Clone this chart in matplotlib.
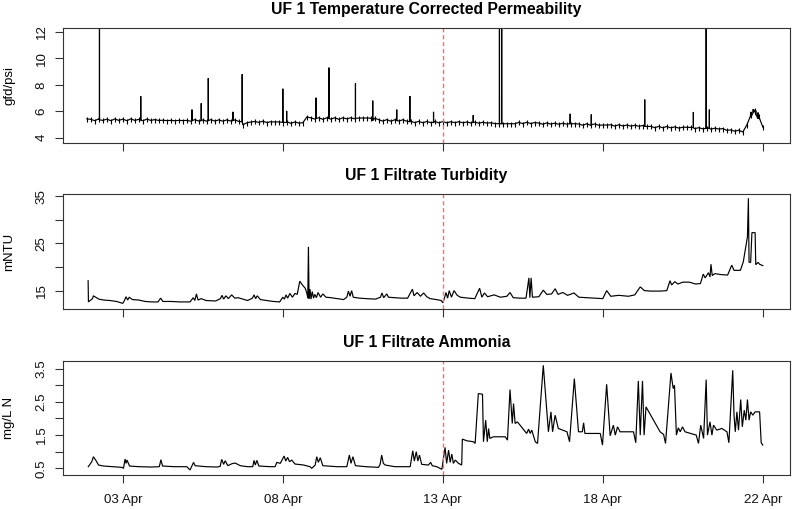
import numpy as np
import pandas as pd
import matplotlib
matplotlib.use("Agg")
import matplotlib.pyplot as plt

plt.rcParams['font.family'] = ['Liberation Sans', 'DejaVu Sans']

T0 = '2023-04-03'          # day 0 of the "day" lists below

# ---------------- Panel 1: temperature corrected permeability ----------------
perm_start = '2023-04-01 21:00'   # baseline readings every 3 h
perm_base = [
    5.42,
    5.38, 5.28, 5.42, 5.30, 5.40, 5.28, 5.41, 5.30,   # 02 Apr
    5.40, 5.28, 5.42, 5.30, 5.38, 5.27, 5.40, 5.30,   # 03 Apr
    5.36, 5.30, 5.31, 5.29, 5.30, 5.28, 5.30, 5.29,   # 04 Apr
    5.30, 5.24, 5.36, 5.25, 5.34, 5.24, 5.36, 5.25,   # 05 Apr
    5.34, 5.24, 5.34, 5.25, 5.34, 5.22, 4.97, 5.12,   # 06 Apr
    5.18, 5.22, 5.15, 5.24, 5.14, 5.20, 5.18, 5.19,   # 07 Apr
    5.13, 5.20, 5.08, 5.18, 5.10, 5.12, 5.56, 5.50,   # 08 Apr
    5.40, 5.50, 5.38, 5.50, 5.40, 5.50, 5.38, 5.50,   # 09 Apr
    5.42, 5.50, 5.42, 5.48, 5.48, 5.48, 5.47, 5.47,   # 10 Apr
    5.35, 5.25, 5.36, 5.24, 5.35, 5.25, 5.35, 5.24,   # 11 Apr
    5.24, 5.13, 5.23, 5.12, 5.22, 5.13, 5.22, 5.12,   # 12 Apr
    5.21, 5.12, 5.20, 5.13, 5.20, 5.12, 5.18, 5.11,   # 13 Apr
    5.17, 5.09, 5.16, 5.10, 5.12, 5.06, 5.05, 5.05,   # 14 Apr
    5.05, 5.05, 5.05, 5.15, 5.06, 5.16, 5.06, 5.14,   # 15 Apr
    5.10, 5.01, 5.11, 5.02, 5.09, 5.01, 5.08, 5.02,   # 16 Apr
    5.05, 5.05, 5.03, 4.93, 5.05, 4.92, 5.03, 4.93,   # 17 Apr
    4.95, 4.95, 4.97, 4.87, 4.97, 4.88, 4.95, 4.87,   # 18 Apr
    4.93, 4.86, 4.91, 4.84, 4.85, 4.75, 4.85, 4.74,   # 19 Apr
    4.84, 4.74, 4.81, 4.72, 4.78, 4.78, 4.77, 4.68,   # 20 Apr
    4.75, 4.66, 4.73, 4.64, 4.71, 4.65, 4.68, 4.55,   # 21 Apr
    4.58, 4.48, 4.56, 4.42, 4.95, 5.70, 6.10, 5.60,   # 22 Apr
    4.80,
]
perm_spike_day = [-0.73, 0.56, 2.16, 2.45, 2.67, 3.44, 3.73, 5.00, 5.12, 6.04,
                  6.44, 7.27, 7.81, 8.56, 8.97, 9.71, 10.95, 11.77, 11.84, 13.98,
                  14.64, 16.31, 17.83, 18.23, 18.33, 19.63, 19.70, 19.78, 19.85]
perm_spike_peak = [14.0, 7.13, 6.12, 6.60, 8.50, 5.95, 8.80, 7.70, 6.02, 7.02,
                   9.30, 8.10, 6.80, 6.12, 7.15, 5.95, 5.70, 14.0, 14.0, 5.80,
                   5.75, 6.88, 5.94, 14.0, 6.12, 5.95, 6.15, 6.05, 5.90]
perm_spike_base = [5.35, 5.33, 5.28, 5.28, 5.28, 5.28, 5.20, 5.15, 5.15, 5.45,
                   5.45, 5.45, 5.30, 5.30, 5.20, 5.15, 5.15, 5.05, 5.05, 5.05,
                   4.98, 4.85, 4.75, 4.70, 4.70, 5.55, 5.90, 5.75, 5.45]

# ---------------- Panel 2: filtrate turbidity ----------------
turb_day = [-1.085, -1.075, -0.95, -0.92, -0.85, -0.75, -0.6, -0.4, -0.2, 0.0,
            0.05, 0.1, 0.15, 0.2, 0.3, 0.5, 0.7, 0.9, 1.1, 1.18,
            1.25, 1.5, 1.8, 2.1, 2.2, 2.25, 2.3, 2.35, 2.45, 2.6,
            2.9, 3.05, 3.1, 3.15, 3.22, 3.3, 3.4, 3.5, 3.6, 3.75,
            3.9, 4.05, 4.1, 4.15, 4.2, 4.3, 4.5, 4.7, 4.9, 5.0,
            5.05, 5.1, 5.15, 5.22, 5.3, 5.38, 5.45, 5.53, 5.6, 5.7,
            5.75, 5.78, 5.8, 5.82, 5.85, 5.88, 5.92, 5.96, 6.0, 6.05,
            6.1, 6.18, 6.25, 6.35, 6.5, 6.7, 6.9, 7.0, 7.05, 7.1,
            7.15, 7.2, 7.4, 7.6, 7.9, 8.05, 8.1, 8.15, 8.25, 8.3,
            8.5, 8.7, 8.9, 9.05, 9.1, 9.2, 9.3, 9.4, 9.5, 9.6,
            9.8, 9.95, 10.0, 10.05, 10.1, 10.15, 10.2, 10.27, 10.35, 10.45,
            10.55, 10.8, 11.0, 11.15, 11.22, 11.3, 11.4, 11.6, 11.8, 12.0,
            12.1, 12.2, 12.4, 12.6, 12.69, 12.72, 12.76, 12.8, 13.0, 13.14,
            13.25, 13.4, 13.51, 13.6, 13.75, 13.9, 14.1, 14.25, 14.5, 14.8,
            15.0, 15.12, 15.25, 15.5, 15.8, 16.0, 16.17, 16.3, 16.5, 16.8,
            17.0, 17.1, 17.15, 17.25, 17.35, 17.5, 17.7, 17.9, 18.05, 18.14,
            18.2, 18.3, 18.35, 18.38, 18.42, 18.5, 18.7, 18.9, 19.03, 19.1,
            19.3, 19.39, 19.52, 19.55, 19.57, 19.62, 19.66, 19.76, 19.78, 19.85,
            19.9, 20.0]
turb_val = [17.1, 12.6, 13.3, 13.9, 13.6, 13.2, 13.0, 12.9, 12.7, 12.3,
            12.9, 13.7, 13.0, 13.6, 13.1, 13.0, 12.7, 12.6, 12.6, 13.4,
            12.7, 12.7, 12.6, 12.6, 13.5, 12.9, 14.3, 13.0, 13.3, 12.9,
            12.8, 13.3, 14.0, 13.2, 13.9, 13.3, 14.1, 13.4, 13.5, 13.2,
            12.9, 13.4, 14.1, 13.3, 13.9, 13.1, 12.9, 12.7, 12.6, 13.6,
            13.2, 14.1, 13.4, 14.4, 13.6, 14.4, 14.2, 17.0, 16.3, 15.5,
            14.5, 13.4, 24.3, 13.3, 15.3, 13.2, 14.8, 13.4, 14.2, 13.5,
            14.6, 13.6, 14.3, 13.6, 13.5, 13.3, 13.1, 13.6, 14.9, 13.8,
            15.0, 13.6, 13.4, 13.3, 13.2, 13.6, 14.5, 13.5, 14.3, 13.6,
            13.5, 13.4, 13.4, 15.3, 13.9, 14.6, 13.8, 14.5, 13.7, 13.3,
            13.1, 12.9, 12.4, 13.4, 14.6, 13.4, 15.0, 13.6, 15.0, 14.0,
            13.6, 13.4, 13.3, 15.5, 13.6, 14.5, 13.7, 14.1, 13.6, 13.8,
            14.6, 13.5, 13.4, 13.4, 17.7, 13.5, 17.7, 13.6, 13.7, 15.1,
            14.2, 14.3, 15.4, 14.2, 14.6, 14.0, 14.5, 13.6, 13.5, 13.4,
            13.3, 15.0, 13.8, 14.0, 13.8, 14.1, 15.8, 15.0, 14.9, 14.9,
            15.0, 17.1, 16.2, 16.9, 16.4, 16.8, 16.8, 16.4, 16.5, 18.5,
            17.7, 18.8, 17.9, 20.6, 18.2, 18.6, 18.4, 18.3, 20.4, 19.3,
            19.3, 21.1, 26.4, 34.6, 21.0, 21.0, 27.3, 27.3, 20.5, 21.0,
            20.6, 20.3]

# ---------------- Panel 3: filtrate ammonia ----------------
amm_day = [-1.08, -0.97, -0.92, -0.83, -0.76, -0.6, -0.29, -0.03, 0.02, 0.07,
           0.1, 0.13, 0.21, 0.5, 0.9, 1.14, 1.19, 1.24, 1.6, 2.0,
           2.1, 2.21, 2.26, 2.6, 2.95, 3.04, 3.09, 3.15, 3.2, 3.28,
           3.41, 3.51, 3.67, 3.9, 4.06, 4.1, 4.14, 4.19, 4.25, 4.6,
           4.76, 4.81, 4.92, 5.04, 5.09, 5.15, 5.21, 5.28, 5.38, 5.65,
           5.85, 5.9, 5.96, 6.01, 6.06, 6.11, 6.17, 6.25, 6.7, 7.0,
           7.08, 7.13, 7.19, 7.27, 7.6, 7.99, 8.04, 8.09, 8.14, 8.2,
           8.5, 8.98, 9.06, 9.11, 9.17, 9.22, 9.27, 9.34, 9.55, 9.62,
           9.67, 9.81, 9.97, 10.07, 10.12, 10.18, 10.23, 10.28, 10.33, 10.39,
           10.49, 10.59, 10.61, 10.75, 10.96, 11.01, 11.11, 11.24, 11.27, 11.34,
           11.39, 11.43, 11.47, 11.58, 11.95, 12.02, 12.1, 12.17, 12.21, 12.26,
           12.33, 12.62, 12.68, 12.73, 12.78, 12.89, 12.96, 13.14, 13.3, 13.38,
           13.43, 13.51, 13.61, 13.88, 13.96, 14.11, 14.24, 14.36, 14.4, 14.44,
           14.92, 14.99, 15.12, 15.23, 15.33, 15.39, 15.46, 15.54, 15.96, 16.03,
           16.11, 16.17, 16.24, 16.29, 16.35, 16.79, 16.9, 16.96, 17.13, 17.2,
           17.24, 17.3, 17.36, 17.42, 17.49, 17.57, 17.92, 17.99, 18.06, 18.15,
           18.23, 18.27, 18.35, 18.41, 18.46, 18.56, 18.72, 18.88, 18.94, 19.06,
           19.1, 19.14, 19.19, 19.24, 19.31, 19.36, 19.42, 19.47, 19.52, 19.57,
           19.62, 19.69, 19.76, 19.9, 19.95, 20.0]
amm_val = [0.55, 0.70, 0.85, 0.72, 0.60, 0.57, 0.55, 0.53, 0.50, 0.78,
           0.65, 0.75, 0.57, 0.55, 0.54, 0.55, 0.76, 0.57, 0.55, 0.55,
           0.45, 0.68, 0.58, 0.55, 0.54, 0.56, 0.77, 0.62, 0.73, 0.58,
           0.64, 0.66, 0.58, 0.55, 0.55, 0.74, 0.60, 0.74, 0.57, 0.55,
           0.55, 0.68, 0.65, 0.87, 0.72, 0.83, 0.70, 0.75, 0.63, 0.60,
           0.55, 0.50, 0.55, 0.60, 0.85, 0.68, 0.82, 0.58, 0.55, 0.55,
           0.90, 0.65, 0.85, 0.58, 0.55, 0.53, 0.62, 0.90, 0.65, 0.60,
           0.55, 0.55, 1.03, 0.72, 1.00, 0.72, 0.90, 0.62, 0.60, 0.68,
           0.58, 0.55, 0.47, 1.13, 0.65, 1.05, 0.68, 0.93, 0.65, 0.75,
           0.65, 0.60, 1.38, 1.33, 1.30, 1.25, 2.75, 2.73, 1.30, 1.95,
           1.30, 1.70, 1.40, 1.45, 1.45, 1.35, 2.87, 1.85, 2.45, 1.85,
           1.90, 1.55, 1.68, 1.55, 1.65, 1.30, 1.25, 3.60, 1.60, 2.20,
           1.60, 2.10, 1.70, 1.60, 1.30, 3.20, 1.60, 1.60, 1.87, 1.55,
           1.55, 1.20, 3.03, 1.48, 1.80, 1.50, 1.75, 1.60, 1.60, 1.27,
           3.13, 1.50, 3.13, 1.50, 2.35, 1.60, 1.52, 1.25, 3.37, 2.90,
           3.00, 1.50, 1.72, 1.60, 1.75, 1.60, 1.50, 1.25, 1.80, 1.40,
           3.17, 1.50, 1.90, 1.50, 1.80, 1.65, 1.70, 1.60, 1.27, 3.45,
           2.10, 1.60, 2.20, 1.65, 2.57, 1.75, 2.25, 1.95, 2.57, 1.95,
           2.20, 2.10, 2.20, 2.20, 1.27, 1.20]

# ---------------- axes text ----------------
titles = ['UF 1 Temperature Corrected Permeability', 'UF 1 Filtrate Turbidity',
          'UF 1 Filtrate Ammonia']
ylabels = ['gfd/psi', 'mNTU', 'mg/L N']
yticks = [[4, 6, 8, 10, 12], [15, 20, 25, 30, 35], [0.5, 1.0, 1.5, 2.0, 2.5, 3.0, 3.5]]
yticklabels = [['4', '6', '8', '10', '12'], ['15', '', '25', '', '35'],
               ['0.5', '', '1.5', '', '2.5', '', '3.5']]
ylims = [(3.59, 12.30), (11.1, 35.5), (0.30, 3.73)]
tick_times = ['2023-04-03 00:00', '2023-04-08 00:00', '2023-04-13 00:00',
              '2023-04-18 00:00', '2023-04-22 23:59']
tick_labels = ['03 Apr', '08 Apr', '13 Apr', '18 Apr', '22 Apr']
event_time = '2023-04-13 00:00'
xlim_days = (-1.87, 20.85)


def to_time(days):
    return pd.Timestamp(T0) + pd.to_timedelta(np.asarray(days, dtype=float), unit='D')


# build permeability series (baseline + narrow spikes)
base_t = pd.date_range(perm_start, periods=len(perm_base), freq='3h')
sp_t = to_time(perm_spike_day)
eps = pd.Timedelta(minutes=3)
pts_t = list(base_t) + list(sp_t - eps) + list(sp_t) + list(sp_t + eps)
pts_v = list(perm_base) + list(perm_spike_base) + list(perm_spike_peak) + list(perm_spike_base)
perm = pd.Series(pts_v, index=pd.DatetimeIndex(pts_t)).sort_index()

series = [(perm.index, perm.values),
          (to_time(turb_day), np.array(turb_val)),
          (to_time(amm_day), np.array(amm_val))]

fig = plt.figure(figsize=(7.92, 5.09), dpi=100)
L, W = 63 / 792, 727 / 792
rects = [(L, 1 - 143 / 509, W, 115 / 509),
         (L, 1 - 309 / 509, W, 115 / 509),
         (L, 1 - 475 / 509, W, 114 / 509)]

edge = '#333333'
tick_pos = [pd.Timestamp(s) for s in tick_times]
for i, rect in enumerate(rects):
    ax = fig.add_axes(rect)
    t, v = series[i]
    ax.plot(t, v, color='black', lw=0.85, solid_joinstyle='miter')
    if i == 0:
        # dense sensor noise of the permeability record
        ax.plot(base_t, perm_base, ls='none', marker='|', ms=3.6, mew=0.8,
                color='black')
    ax.axvline(pd.Timestamp(event_time), color='#ff6a6a', lw=1.0,
               linestyle=(0, (3, 2)))
    ax.set_xlim(to_time(xlim_days[0]), to_time(xlim_days[1]))
    ax.set_ylim(*ylims[i])
    ax.set_xticks(tick_pos)
    if i == 2:
        ax.set_xticklabels(tick_labels)
    else:
        ax.set_xticklabels([''] * len(tick_labels))
    ax.set_yticks(yticks[i])
    ax.set_yticklabels(yticklabels[i])
    for s in ax.spines.values():
        s.set_color(edge)
        s.set_linewidth(0.8)
    ax.tick_params(direction='out', length=6, width=0.8, color=edge,
                   labelsize=9.6, labelcolor='#111111')
    ax.tick_params(axis='x', pad=7.5)
    ax.tick_params(axis='y', pad=5, labelrotation=90)
    for lab in ax.get_yticklabels():
        lab.set_va('center')
    ax.set_title(titles[i], fontsize=11.3, fontweight='bold', pad=10.3)
    ax.set_ylabel(ylabels[i], fontsize=9.5)
    ax.yaxis.set_label_coords(-0.066, 0.5)

fig.savefig('out.png', dpi=100)
